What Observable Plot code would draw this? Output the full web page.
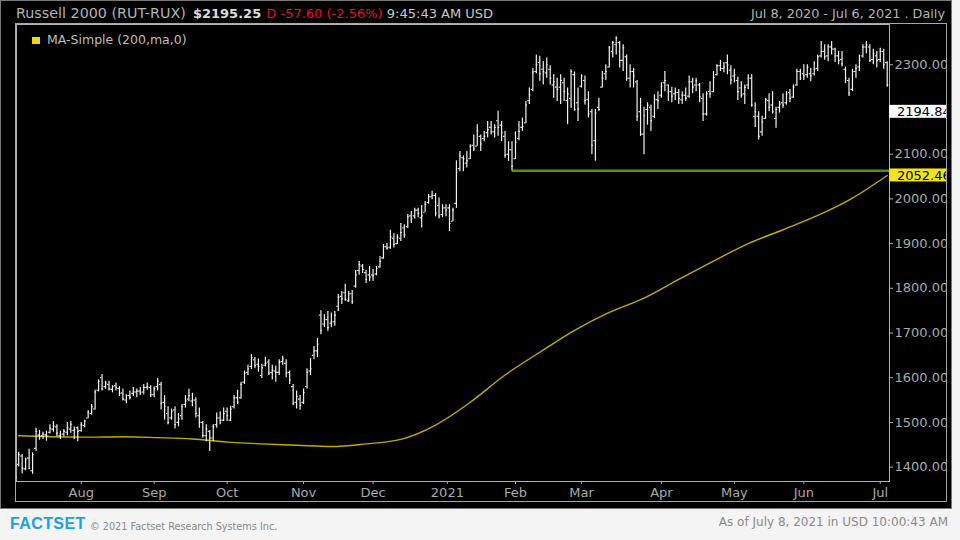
<!DOCTYPE html>
<html><head><meta charset="utf-8">
<script src="https://cdn.jsdelivr.net/npm/d3@7"></script>
<script src="https://cdn.jsdelivr.net/npm/@observablehq/plot@0.6"></script>
<style>
html,body{margin:0;padding:0;width:960px;height:540px;background:#f4f4f4;overflow:hidden;font-family:"DejaVu Sans",sans-serif;}
#chart{position:absolute;left:0;top:0;width:950px;height:507px;background:#000;border:1px solid #777;}
#hdrL{position:absolute;left:15px;top:4px;font-size:13px;line-height:16px;color:#b4b4b4;white-space:pre;}
#hdrL .nm{font-size:14.3px;}
#hdrL b{color:#dcdcdc;margin-left:3px;}
#hdrL .neg{color:#e0102a;margin-left:1px;}
#hdrL .t{color:#c8c8c8;}
#hdrR{position:absolute;right:6px;top:5px;font-size:12.8px;line-height:15px;color:#b4b4b4;white-space:pre;}
#frame{position:absolute;left:14px;top:22px;width:930px;height:477px;border:1px solid #a8a8a8;overflow:hidden;background:#000;}
#legend{position:absolute;left:31px;top:32px;font-size:12.5px;line-height:14px;color:#bdbdbd;white-space:pre;}
#legend i{display:inline-block;width:8px;height:7px;background:#f2dc00;margin-right:7px;vertical-align:0px;}
#footer{position:absolute;left:0;top:509px;width:960px;height:31px;background:#f4f4f4;}
#logo{position:absolute;left:10px;top:6px;font-family:"Liberation Sans",Arial,sans-serif;font-weight:bold;font-size:16px;color:#1aa0e6;letter-spacing:0.4px;line-height:18px;}
#copy{position:absolute;left:90px;top:12px;font-size:9.7px;line-height:11px;color:#8a8a8a;}
#asof{position:absolute;right:12px;top:7px;font-size:12px;line-height:13px;color:#8a8a8a;}
</style></head>
<body>
<div id="chart">
  <div id="hdrL"><span class="nm">Russell 2000 (RUT-RUX)</span> <b>$2195.25</b> <span class="neg">D -57.60 (-2.56%)</span> <span class="t">9:45:43 AM USD</span></div>
  <div id="hdrR">Jul 8, 2020 - Jul 6, 2021 . Daily</div>
  <div id="frame"></div>
  <div id="legend"><i></i>MA-Simple (200,ma,0)</div>
</div>
<div id="footer">
  <div id="logo">FACTSET</div>
  <div id="copy">© 2021 Factset Research Systems Inc.</div>
  <div id="asof">As of July 8, 2021 in USD 10:00:43 AM</div>
</div>
<script>
// Daily OHLC, Jul 8 2020 .. Jul 6 2021 (trading-day order)
const open = [1406,1425,1396,1420,1392,1442,1472,1470,1472,1478,1485,1490,1470,1474,1478,1485,1482,1488,
1482,1493,1510,1520,1530,1572,1600,1580,1585,1574,1582,1576,1566,1550,1560,1565,1568,1570,1568,1578,1578,
1562,1580,1585,1545,1520,1510,1528,1500,1515,1540,1552,1548,1550,1515,1500,1470,1480,1465,1495,1510,1505,
1525,1505,1535,1555,1555,1590,1612,1625,1640,1630,1605,1628,1635,1612,1615,1612,1636,1632,1612,1580,1545,1552,
1545,1580,1615,1650,1660,1740,1720,1730,1722,1725,1760,1782,1790,1772,1788,1805,1840,1850,1835,1830,
1830,1832,1848,1868,1893,1892,1912,1900,1912,1935,1938,1962,1962,1975,1958,1970,1992,2005,2008,1985,1965,1980,
1980,1950,1990,2068,2092,2080,2090,2120,2118,2140,2135,2148,2160,2150,2175,2165,2140,2100,2110,
2090,2135,2160,2170,2220,2245,2285,2305,2290,2282,2290,2255,2250,2250,2260,2220,2225,2278,2215,
2252,2265,2222,2195,2130,2205,2250,2280,2295,2330,2345,2350,2310,2318,2270,2285,2262,2195,2145,2200,2205,2185,2222,
2232,2260,2255,2240,2235,2238,2222,2232,2230,2262,2255,2255,2225,2190,2240,2240,2278,2298,2292,2305,2288,
2275,2265,2248,2235,2255,2270,2185,2185,2150,2180,2220,2210,2180,2205,2215,2215,2238,2228,2255,2285,
2280,2278,2280,2280,2292,2320,2330,2320,2340,2335,2320,2312,2290,2265,2245,2285,2295,2320,2340,2340,2312,2320,
2312,2330,2305];
const high = [1433,1428,1420,1440,1432,1487,1482,1478,1480,1495,1502,1495,1480,1484,1500,1502,1490,1490,
1500,1505,1526,1540,1572,1595,1607,1592,1592,1582,1588,1580,1575,1562,1570,1578,1575,1578,1585,1588,1582,
1580,1598,1590,1560,1535,1530,1535,1520,1540,1560,1574,1565,1555,1532,1502,1495,1482,1495,1521,1524,1532,
1532,1536,1560,1572,1590,1615,1628,1652,1645,1642,1630,1646,1640,1628,1626,1640,1648,1640,1615,1585,1570,1560,
1575,1620,1643,1670,1688,1750,1741,1748,1745,1748,1786,1793,1809,1793,1795,1840,1860,1853,1840,1849,
1842,1849,1871,1898,1900,1930,1922,1920,1945,1942,1965,1972,1979,1979,1985,1994,2010,2017,2012,2002,1987,1987,
1987,1979,2085,2106,2096,2106,2121,2143,2166,2143,2151,2173,2173,2166,2196,2173,2151,2128,2128,
2150,2173,2181,2218,2248,2292,2322,2319,2307,2315,2298,2278,2270,2278,2270,2248,2289,2284,2248,
2278,2275,2240,2200,2200,2225,2285,2300,2341,2352,2363,2352,2345,2322,2300,2292,2265,2225,2205,2215,2210,2233,2240,
2260,2285,2255,2250,2248,2245,2240,2248,2275,2270,2270,2258,2235,2240,2262,2285,2300,2310,2305,2322,2298,
2290,2272,2262,2255,2278,2278,2215,2195,2185,2225,2235,2240,2205,2218,2235,2240,2245,2255,2290,2290,
2300,2300,2292,2307,2322,2352,2345,2345,2352,2337,2330,2330,2295,2270,2290,2300,2322,2345,2352,2345,2335,2330,
2337,2335,2307];
const low = [1401,1385,1392,1394,1384,1435,1460,1462,1458,1474,1478,1468,1462,1468,1470,1476,1462,1457,
1478,1488,1508,1516,1528,1568,1570,1574,1570,1566,1570,1558,1548,1542,1550,1558,1555,1560,1562,1572,1556,
1555,1570,1528,1505,1495,1505,1485,1490,1505,1532,1546,1535,1510,1487,1465,1457,1435,1457,1487,1495,1502,
1502,1502,1530,1540,1552,1585,1605,1618,1620,1612,1598,1624,1605,1595,1590,1605,1628,1600,1585,1538,1530,1527,
1540,1575,1605,1640,1645,1696,1712,1704,1712,1715,1748,1764,1771,1768,1764,1800,1829,1833,1811,1815,
1815,1828,1845,1865,1885,1887,1890,1898,1905,1912,1934,1945,1955,1958,1935,1970,1988,1998,1960,1955,1958,1960,
1927,1949,1979,2061,2061,2069,2088,2106,2118,2106,2128,2136,2143,2136,2140,2128,2091,2084,2063,
2088,2130,2151,2168,2211,2240,2280,2263,2255,2270,2255,2225,2218,2211,2218,2166,2203,2196,2173,
2248,2210,2181,2099,2084,2196,2248,2265,2293,2315,2322,2293,2285,2263,2248,2248,2173,2140,2099,2165,2151,2180,2200,
2225,2240,2218,2215,2220,2211,2212,2218,2225,2235,2240,2215,2173,2185,2225,2238,2275,2285,2282,2278,2255,
2260,2220,2225,2211,2245,2205,2160,2132,2140,2178,2195,2190,2158,2192,2203,2210,2215,2225,2252,2265,
2265,2270,2262,2275,2285,2315,2310,2307,2322,2305,2300,2295,2258,2229,2240,2270,2285,2315,2325,2305,2300,2293,
2305,2290,2250];
const close = [1428,1398,1418,1397,1428,1480,1468,1474,1469,1487,1492,1476,1472,1480,1488,1496,1484,1480,
1495,1503,1523,1535,1568,1592,1575,1588,1575,1580,1578,1565,1552,1560,1556,1568,1570,1566,1578,1580,1562,
1576,1592,1543,1536,1500,1525,1495,1508,1535,1548,1560,1550,1520,1500,1470,1485,1465,1490,1510,1505,1520,
1515,1530,1555,1545,1585,1610,1620,1645,1628,1625,1622,1632,1610,1617,1612,1635,1642,1610,1595,1542,1558,1538,
1567,1612,1620,1660,1675,1705,1730,1712,1725,1740,1780,1776,1775,1788,1770,1830,1853,1842,1820,1825,
1828,1845,1860,1893,1890,1915,1898,1915,1925,1920,1960,1955,1975,1968,1962,1988,2005,2008,1968,1962,1980,1975,
1945,1975,2060,2096,2090,2085,2118,2112,2152,2123,2140,2155,2150,2160,2160,2148,2098,2110,2073,
2127,2151,2162,2210,2233,2284,2300,2280,2285,2300,2270,2262,2245,2265,2240,2235,2285,2200,2201,
2275,2220,2190,2120,2192,2200,2270,2285,2338,2350,2360,2310,2338,2270,2285,2275,2185,2145,2186,2210,2175,2222,2220,
2253,2265,2240,2230,2238,2225,2232,2225,2262,2250,2264,2228,2190,2235,2235,2272,2298,2292,2295,2300,2266,
2278,2240,2232,2250,2270,2210,2195,2140,2172,2222,2205,2195,2200,2212,2210,2235,2225,2250,2285,2270,
2275,2295,2275,2290,2318,2330,2318,2340,2335,2320,2310,2302,2270,2237,2285,2292,2310,2340,2345,2310,2325,2310,
2330,2300,2255];

// 200-day simple moving average, read at every 10th bar
const maIdx = [0,10,20,30,40,50,60,70,80,90,100,110,120,130,140,150,160,170,180,190,200,210,220,230,240,250];
const maVal = [1470,1468,1467,1468,1466,1463,1456,1452,1449,1446,1452,1462,1494,1545,1606,1657,1706,1746,1778,1820,1861,1900,1931,1963,2002,2052.46];

const monthTickIdx = [18,39,60,82,102,123.4,143,162,185,206,226,248];
const monthLabels = ["Aug","Sep","Oct","Nov","Dec","2021","Feb","Mar","Apr","May","Jun","Jul"];
const yTicks = [1400,1500,1600,1700,1800,1900,2000,2100,2200,2300];
const supportStartIdx = [142];
const supportLevel = [2063];
const lastPrice = [2194.84];
const maLast = [2052.46];

const xDomain = [-0.63, 250.66];
const yDomain = [1367.8, 2390.2];

const bars = close.map((c, i) => ({i, o: open[i], h: high[i], l: low[i], c}));
const ma = maIdx.map((i, k) => ({i, v: maVal[k]}));
const labelMap = new Map(monthTickIdx.map((d, k) => [d, monthLabels[k]]));
const support = supportLevel.map((v, k) => ({v, x1: supportStartIdx[k], x2: xDomain[1]}));

const barColor = "#f2f2f2";
const plot = Plot.plot({
  width: 930, height: 477,
  marginLeft: 0, marginRight: 57, marginTop: 0, marginBottom: 20,
  style: {background: "#000", color: "#a9a9a9", fontFamily: "DejaVu Sans", fontSize: "13px"},
  x: {domain: xDomain, axis: null},
  y: {domain: yDomain, axis: null},
  marks: [
    Plot.line(ma, {x: "i", y: "v", stroke: "#c2ab00", strokeWidth: 1.4, curve: "monotone-x"}),
    Plot.ruleY(support, {y: "v", x1: "x1", x2: "x2", stroke: "#5b8d0b", strokeWidth: 2.6}),
    Plot.ruleX(bars, {x: "i", y1: "l", y2: "h", stroke: barColor, strokeWidth: 1.2}),
    Plot.ruleY(bars, {y: "o", x1: d => d.i - 0.45, x2: "i", stroke: barColor, strokeWidth: 1.1}),
    Plot.ruleY(bars, {y: "c", x1: "i", x2: d => d.i + 0.45, stroke: barColor, strokeWidth: 1.1}),
    Plot.frame({stroke: "#b0b0b0"}),
    Plot.axisX({ticks: monthTickIdx, tickFormat: d => labelMap.get(d), tickSize: 3, tickPadding: 3}),
    Plot.axisY({anchor: "right", ticks: yTicks, tickFormat: d => d.toFixed(2), tickSize: 3, tickPadding: 2})
  ]
});

const ys = plot.scale("y");
const xs = plot.scale("x");
const xr = xs.range[1];
const svg = d3.select(plot);
[[lastPrice[0], "#ffffff"], [maLast[0], "#f3e21c"]].forEach(([v, fill]) => {
  const yy = ys.apply(v);
  svg.append("rect").attr("x", xr).attr("y", yy - 6.5).attr("width", 60).attr("height", 13).attr("fill", fill);
  svg.append("text").attr("x", xr + 8).attr("y", yy).attr("dy", "0.36em").attr("fill", "#000")
    .attr("text-anchor", "start").attr("font-size", 13).text(v.toFixed(2));
});
document.getElementById("frame").appendChild(plot);
</script>
</body></html>
